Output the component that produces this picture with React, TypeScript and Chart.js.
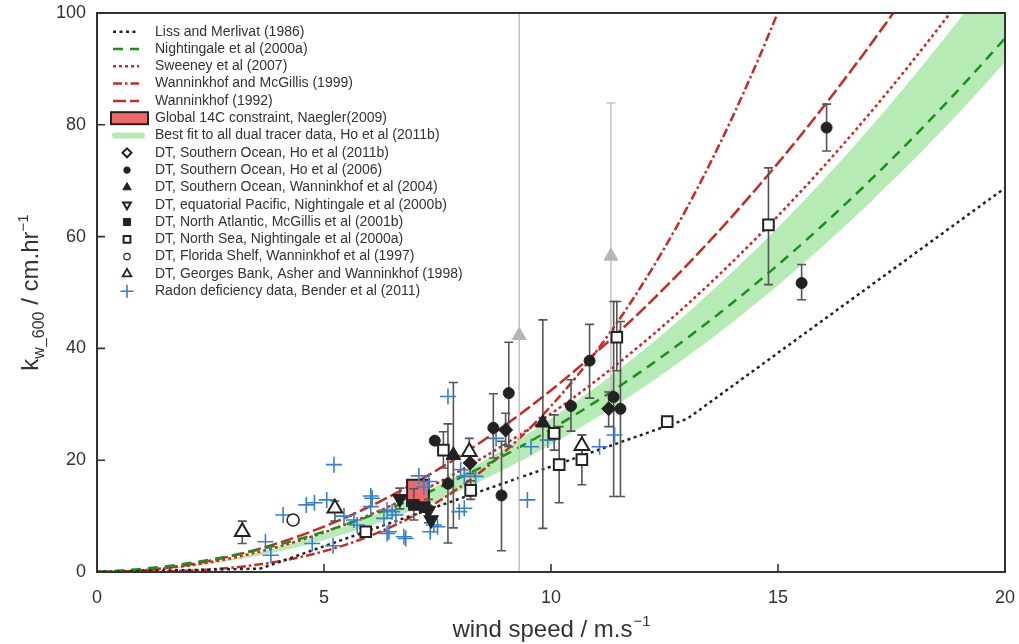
import React, { useEffect, useRef } from "react";
import { Chart, registerables } from "chart.js";
import { drawPoint } from "chart.js/helpers";

Chart.register(...registerables);

const FONT = "'Liberation Sans', Arial, Helvetica, sans-serif";

// ---------- curves (wind speed in m/s, k600 in cm/hr) ----------
const curveWind = [0, 1, 2, 3, 4, 5, 6, 7, 8, 9, 10, 11, 12, 13, 14, 15, 16, 17, 18, 19, 20];
const nightingale2000a = [0, 0.56, 1.55, 3.0, 4.88, 7.22, 9.99, 13.21, 16.87, 20.98, 25.53, 30.53, 35.96, 41.85, 48.17, 54.95, 62.16, 69.82, 77.92, 86.47, 95.46];
const sweeney2007 = [0, 0.28, 1.13, 2.55, 4.53, 7.08, 10.2, 13.88, 18.12, 22.94, 28.32, 34.27, 40.78, 47.86, 55.51, 63.72, 72.5, 81.84, 91.76, 102.24, 113.28];
const wanninkhofMcGillis1999 = [0, 0.03, 0.24, 0.8, 1.9, 3.71, 6.41, 10.18, 15.2, 21.64, 29.68, 39.5, 51.29, 65.21, 81.44, 100.17, 121.57, 145.8, 173.1, 203.6, 237.4];
const wanninkhof1992 = [0, 0.33, 1.3, 2.93, 5.2, 8.13, 11.7, 15.93, 20.81, 26.33, 32.51, 39.34, 46.81, 54.94, 63.72, 73.15, 83.23, 93.95, 105.33, 117.36, 130.04];
const bandLow = [0, 0.23, 0.91, 2.05, 3.65, 5.7, 8.21, 11.17, 14.59, 18.47, 22.8, 27.59, 32.83, 38.53, 44.69, 51.3, 58.37, 65.89, 73.87, 82.31, 91.2];
const bandHigh = [0, 0.27, 1.1, 2.47, 4.38, 6.85, 9.86, 13.43, 17.54, 22.19, 27.4, 33.15, 39.46, 46.31, 53.7, 61.65, 70.14, 79.19, 88.78, 98.91, 109.6];
const lissWind = [0, 3.6, 13, 20];
const liss1986 = [0, 0.61, 27.4, 68.7];

// ---------- Naegler (2009) box ----------
const naeglerWind = [6.83, 7.31];
const naeglerK = [11.8, 16.5];

// ---------- dual tracer data ----------
const ho2011bWind = [8.22, 9.0, 11.27];
const ho2011bK = [19.5, 25.4, 29.2];
const ho2011bLo = [17.6, 22.7, 26.0];
const ho2011bHi = [21.4, 28.4, 32.2];

const ho2006Wind = [7.44, 7.73, 8.73, 8.91, 9.07, 10.44, 10.85, 11.38, 11.53, 15.52, 16.07];
const ho2006K = [23.5, 15.8, 25.8, 13.7, 32.0, 29.7, 37.8, 31.3, 29.2, 51.7, 79.5];
const ho2006Lo = [null, 5.2, 20.4, 3.8, 22.4, 25.2, 31.1, 13.5, 13.5, 48.7, 75.3];
const ho2006Hi = [null, 26.5, 31.9, 23.4, 41.1, 34.4, 44.3, 48.4, 44.8, 55.0, 83.7];

const wann2004Wind = [7.85, 9.82];
const wann2004K = [20.9, 26.7];
const wann2004Lo = [7.9, 7.8];
const wann2004Hi = [33.9, 45.1];

const night2000bWind = [6.67, 7.3, 7.36];
const night2000bK = [13.1, 11.0, 9.3];
const night2000bLo = [11.3, 8.8, null];
const night2000bHi = [15.0, 13.0, null];

const mcgillisWind = [6.98, 7.22];
const mcgillisK = [12.0, 11.6];
const mcgillisLo = [9.3, null];
const mcgillisHi = [14.9, null];

const northSeaWind = [5.92, 7.63, 8.23, 10.07, 10.18, 10.68, 11.45, 12.56, 14.79];
const northSeaK = [7.2, 21.8, 14.6, 24.8, 19.2, 20.1, 42.0, 26.9, 62.1];
const northSeaLo = [6.3, 18.6, 13.0, 21.8, 12.4, 15.6, 36.0, 26.2, 51.4];
const northSeaHi = [8.1, 25.1, 16.3, 28.1, 26.0, 24.5, 48.4, 27.7, 72.3];

const floridaWind = [4.32];
const floridaK = [9.3];

const georgesWind = [3.2, 5.24, 8.2, 10.68];
const georgesK = [7.2, 11.4, 21.5, 22.6];
const georgesLo = [5.1, 9.1, 19.6, 20.6];
const georgesHi = [9.1, 12.7, 23.9, 24.5];

const greyWind = [9.3, 11.32];
const greyK = [42.3, 56.5];
const greyLo = [-10, 29.0];
const greyHi = [110, 83.9];

const benderWind = [5.22, 4.1, 3.71, 3.83, 4.61, 4.79, 5.06, 4.74, 5.2, 5.44, 5.66, 5.73, 6.03, 6.03, 6.06, 6.32, 6.39, 6.43, 6.58, 6.5, 6.39, 6.76, 6.8, 7.09, 7.31, 7.2, 7.42, 7.34, 7.5, 7.98, 8.09, 8.01, 8.09, 8.34, 8.79, 7.73, 9.56, 9.48, 9.93, 11.07, 11.4];
const benderK = [19.2, 10.2, 5.4, 3.0, 12.0, 12.4, 12.9, 5.1, 4.7, 10.0, 9.3, 8.4, 13.6, 11.7, 13.2, 9.6, 11.1, 7.2, 10.2, 10.8, 6.9, 6.3, 6.0, 17.2, 16.2, 15.2, 8.4, 7.2, 8.1, 10.8, 11.4, 18.3, 17.1, 17.1, 23.9, 31.4, 22.4, 12.9, 23.6, 22.4, 24.5];

// ---------- ticks & text ----------
const xTicks = [0, 5, 10, 15, 20];
const yTicks = [0, 20, 40, 60, 80, 100];
const legendLabels = [
  "Liss and Merlivat (1986)",
  "Nightingale et al (2000a)",
  "Sweeney et al (2007)",
  "Wanninkhof and McGillis (1999)",
  "Wanninkhof (1992)",
  "Global 14C constraint, Naegler(2009)",
  "Best fit to all dual tracer data, Ho et al (2011b)",
  "DT, Southern Ocean, Ho et al (2011b)",
  "DT, Southern Ocean, Ho et al (2006)",
  "DT, Southern Ocean, Wanninkhof et al (2004)",
  "DT, equatorial Pacific, Nightingale et al (2000b)",
  "DT, North Atlantic, McGillis et al (2001b)",
  "DT, North Sea, Nightingale et al (2000a)",
  "DT, Florida Shelf, Wanninkhof et al (1997)",
  "DT, Georges Bank, Asher and Wanninkhof (1998)",
  "Radon deficiency data, Bender et al (2011)",
];

const RED = "#c62a24";
const GREEN = "#1b8f1b";
const BLACK = "#222222";
const BAND = "#b6ebb6";
const BLUE = "#3b7ecb";
const AXIS = "#333333";

const DASH_LISS = [3, 3.5];
const DASH_NIGHT = [10, 7];
const DASH_SWEENEY = [3, 3];
const DASH_WM = [9, 3, 2.5, 3];
const DASH_W92 = [13, 4];

export default function App() {
  const ref = useRef<HTMLCanvasElement>(null);

  useEffect(() => {
    const canvas = ref.current;
    if (!canvas) return;
    const xy = (xs: number[], ys: number[]) => xs.map((x, i) => ({ x, y: ys[i] }));

    const curve = (label: string, xs: number[], ys: number[], color: string, dash: number[], order: number, mono = true) => ({
      type: "line",
      label,
      data: xy(xs, ys),
      borderColor: color,
      borderWidth: 2.5,
      borderDash: dash,
      borderCapStyle: "butt",
      pointRadius: 0,
      pointHoverRadius: 0,
      fill: false,
      cubicInterpolationMode: mono ? "monotone" : "default",
      tension: 0,
      order,
    });

    const markers = (label: string, xs: number[], ys: number[], style: string, radius: number, bg: string, border: string, bw: number, rot: number, order: number) => ({
      type: "scatter",
      label,
      data: xy(xs, ys),
      pointStyle: style,
      pointRadius: radius,
      pointHoverRadius: radius,
      pointBackgroundColor: bg,
      pointBorderColor: border,
      pointBorderWidth: bw,
      pointRotation: rot,
      showLine: false,
      order,
    });

    const datasets: any[] = [
      { type: "line", label: "bandLow", data: xy(curveWind, bandLow), borderWidth: 0, pointRadius: 0, fill: false, cubicInterpolationMode: "monotone", order: 60, borderColor: "rgba(0,0,0,0)" },
      { type: "line", label: legendLabels[6], data: xy(curveWind, bandHigh), borderWidth: 0, pointRadius: 0, fill: { target: 0 }, backgroundColor: BAND, cubicInterpolationMode: "monotone", order: 60, borderColor: "rgba(0,0,0,0)" },
      curve(legendLabels[0], lissWind, liss1986, BLACK, DASH_LISS, 50, false),
      curve(legendLabels[1], curveWind, nightingale2000a, GREEN, DASH_NIGHT, 50),
      curve(legendLabels[2], curveWind, sweeney2007, RED, DASH_SWEENEY, 50),
      curve(legendLabels[3], curveWind, wanninkhofMcGillis1999, RED, DASH_WM, 50),
      curve(legendLabels[4], curveWind, wanninkhof1992, RED, DASH_W92, 50),
      markers("grey", greyWind, greyK, "triangle", 8, "#b5b5b5", "#b5b5b5", 1, 0, 9), // 7
      markers(legendLabels[15], benderWind, benderK, "cross", 8, BLUE, BLUE, 1.6, 0, 8), // 8
      markers(legendLabels[14], georgesWind, georgesK, "triangle", 8.5, "#ffffff", BLACK, 2, 0, 7), // 9
      markers(legendLabels[13], floridaWind, floridaK, "circle", 6, "#ffffff", BLACK, 1.5, 0, 6), // 10
      markers(legendLabels[12], northSeaWind, northSeaK, "rect", 7.5, "#ffffff", BLACK, 2, 0, 5), // 11
      markers(legendLabels[11], mcgillisWind, mcgillisK, "rect", 7.5, BLACK, BLACK, 1, 0, 4), // 12
      markers(legendLabels[10], night2000bWind, night2000bK, "triangle", 8.5, BLACK, BLACK, 1, 180, 3), // 13
      markers(legendLabels[9], wann2004Wind, wann2004K, "triangle", 8.5, BLACK, BLACK, 1, 0, 2), // 14
      markers(legendLabels[8], ho2006Wind, ho2006K, "circle", 5.5, BLACK, BLACK, 1, 0, 1), // 15
      markers(legendLabels[7], ho2011bWind, ho2011bK, "rectRot", 7, BLACK, BLACK, 1, 0, 0), // 16
    ];

    const errorSets = [
      { xs: greyWind, lo: greyLo, hi: greyHi, color: "#c4c4c4" },
      { xs: ho2011bWind, lo: ho2011bLo, hi: ho2011bHi, color: "#555" },
      { xs: ho2006Wind, lo: ho2006Lo, hi: ho2006Hi, color: "#555" },
      { xs: wann2004Wind, lo: wann2004Lo, hi: wann2004Hi, color: "#555" },
      { xs: night2000bWind, lo: night2000bLo, hi: night2000bHi, color: "#555" },
      { xs: mcgillisWind, lo: mcgillisLo, hi: mcgillisHi, color: "#555" },
      { xs: northSeaWind, lo: northSeaLo, hi: northSeaHi, color: "#555" },
      { xs: georgesWind, lo: georgesLo, hi: georgesHi, color: "#555" },
    ];

    const decor = {
      id: "decor",
      beforeDatasetDraw(chart: any, args: any) {
        if (args.index !== 7) return;
        const { ctx, chartArea: a } = chart;
        const xs = chart.scales.x, ys = chart.scales.y;
        ctx.save();
        ctx.beginPath();
        ctx.rect(a.left, a.top, a.right - a.left, a.bottom - a.top);
        ctx.clip();
        // Naegler box
        const bx0 = xs.getPixelForValue(naeglerWind[0]);
        const bx1 = xs.getPixelForValue(naeglerWind[1]);
        const by0 = ys.getPixelForValue(naeglerK[1]);
        const by1 = ys.getPixelForValue(naeglerK[0]);
        ctx.fillStyle = "#ee6a6a";
        ctx.strokeStyle = BLACK;
        ctx.lineWidth = 2;
        ctx.fillRect(bx0, by0, bx1 - bx0, by1 - by0);
        ctx.strokeRect(bx0, by0, bx1 - bx0, by1 - by0);
        // error bars
        ctx.lineWidth = 1.6;
        for (const s of errorSets) {
          ctx.strokeStyle = s.color;
          s.xs.forEach((u: number, i: number) => {
            const lo = s.lo[i], hi = s.hi[i];
            if (lo == null || hi == null) return;
            const px = xs.getPixelForValue(u);
            const p0 = ys.getPixelForValue(lo);
            const p1 = ys.getPixelForValue(hi);
            ctx.beginPath();
            ctx.moveTo(px, p0);
            ctx.lineTo(px, p1);
            ctx.moveTo(px - 4.5, p0);
            ctx.lineTo(px + 4.5, p0);
            ctx.moveTo(px - 4.5, p1);
            ctx.lineTo(px + 4.5, p1);
            ctx.stroke();
          });
        }
        ctx.restore();
      },
      afterDraw(chart: any) {
        const { ctx, chartArea: a } = chart;
        const xs = chart.scales.x, ys = chart.scales.y;
        ctx.save();
        // frame
        ctx.strokeStyle = AXIS;
        ctx.lineWidth = 2;
        ctx.setLineDash([]);
        ctx.strokeRect(a.left, a.top, a.right - a.left, a.bottom - a.top);
        // inward ticks
        ctx.lineWidth = 1.6;
        ctx.beginPath();
        xTicks.forEach((v) => {
          const px = xs.getPixelForValue(v);
          ctx.moveTo(px, a.bottom);
          ctx.lineTo(px, a.bottom - 8);
        });
        yTicks.forEach((v) => {
          const py = ys.getPixelForValue(v);
          ctx.moveTo(a.left, py);
          ctx.lineTo(a.left + 8, py);
        });
        ctx.stroke();

        // x title
        ctx.fillStyle = AXIS;
        ctx.textBaseline = "alphabetic";
        const big = `24px ${FONT}`;
        const sup = `15px ${FONT}`;
        ctx.font = big;
        const t1 = "wind speed / m.s";
        const w1 = ctx.measureText(t1).width;
        ctx.font = sup;
        const w2 = ctx.measureText("\u22121").width;
        const cx = (a.left + a.right) / 2;
        let sx = cx - (w1 + w2) / 2;
        ctx.font = big;
        ctx.textAlign = "left";
        ctx.fillText(t1, sx, 637);
        ctx.font = sup;
        ctx.fillText("\u22121", sx + w1 + 1, 626);

        // y title
        ctx.save();
        ctx.translate(38, (a.top + a.bottom) / 2);
        ctx.rotate(-Math.PI / 2);
        const parts = [
          { t: "k", f: big, dy: 0 },
          { t: "w_600", f: `16px ${FONT}`, dy: 6 },
          { t: " / cm.hr", f: big, dy: 0 },
          { t: "\u22121", f: sup, dy: -10 },
        ];
        let total = 0;
        const widths = parts.map((p) => {
          ctx.font = p.f;
          const w = ctx.measureText(p.t).width;
          total += w;
          return w;
        });
        let x = -total / 2;
        parts.forEach((p, i) => {
          ctx.font = p.f;
          ctx.fillText(p.t, x, p.dy);
          x += widths[i];
        });
        ctx.restore();

        // legend
        const lx0 = 113, lx1 = 139, mx = 127, tx = 155;
        const y0 = 31.7, step = 17.3;
        const line = (row: number, color: string, dash: number[], w = 2.5) => {
          const y = y0 + row * step;
          ctx.save();
          ctx.strokeStyle = color;
          ctx.lineWidth = w;
          ctx.setLineDash(dash);
          ctx.beginPath();
          ctx.moveTo(lx0, y);
          ctx.lineTo(lx1, y);
          ctx.stroke();
          ctx.restore();
        };
        line(0, BLACK, DASH_LISS);
        line(1, GREEN, DASH_NIGHT);
        line(2, RED, DASH_SWEENEY);
        line(3, RED, DASH_WM);
        line(4, RED, DASH_W92);
        // naegler
        {
          const y = y0 + 5 * step;
          ctx.fillStyle = "#ee6a6a";
          ctx.strokeStyle = BLACK;
          ctx.lineWidth = 2;
          ctx.fillRect(111, y - 6, 37, 12);
          ctx.strokeRect(111, y - 6, 37, 12);
        }
        // band
        {
          const y = y0 + 6 * step;
          ctx.save();
          ctx.strokeStyle = BAND;
          ctx.lineWidth = 6;
          ctx.lineCap = "round";
          ctx.beginPath();
          ctx.moveTo(115, y);
          ctx.lineTo(142, y);
          ctx.stroke();
          ctx.restore();
        }
        const mk = (row: number, style: string, r: number, bg: string, border: string, bw: number, rot = 0) => {
          const y = y0 + row * step;
          ctx.save();
          ctx.fillStyle = bg;
          ctx.strokeStyle = border;
          ctx.lineWidth = bw;
          drawPoint(ctx, { pointStyle: style as any, rotation: rot, radius: r, borderWidth: bw }, mx, y);
          ctx.restore();
        };
        mk(7, "rectRot", 4.5, "#ffffff", BLACK, 2);
        mk(8, "circle", 3.2, BLACK, BLACK, 1);
        mk(9, "triangle", 4.8, BLACK, BLACK, 1);
        mk(10, "triangle", 4.5, "#ffffff", BLACK, 2, 180);
        mk(11, "rect", 5, BLACK, BLACK, 1);
        mk(12, "rect", 4.8, "#ffffff", BLACK, 2);
        mk(13, "circle", 3.2, "#ffffff", BLACK, 1.2);
        mk(14, "triangle", 5, "#ffffff", BLACK, 1.8);
        mk(15, "cross", 6.5, BLUE, BLUE, 1.6);

        ctx.fillStyle = AXIS;
        ctx.textAlign = "left";
        ctx.textBaseline = "middle";
        ctx.font = `14px ${FONT}`;
        legendLabels.forEach((t, i) => {
          ctx.fillText(t, tx, y0 + i * step);
        });
        ctx.restore();
      },
    };

    const chart = new Chart(canvas, {
      type: "scatter",
      data: { datasets },
      options: {
        animation: false,
        responsive: false,
        events: [],
        layout: { padding: { top: 13, right: 14, left: 0, bottom: 0 } },
        plugins: { legend: { display: false }, tooltip: { enabled: false } },
        scales: {
          x: {
            type: "linear",
            min: 0,
            max: 20,
            afterFit: (s: any) => { s.height = 72; s.paddingLeft = 0; s.paddingRight = 0; },
            afterBuildTicks: (s: any) => { s.ticks = xTicks.map((v) => ({ value: v })); },
            ticks: { color: AXIS, font: { family: FONT, size: 18 }, padding: 15, maxRotation: 0 },
            grid: { display: false, drawTicks: false },
            border: { display: false },
          },
          y: {
            type: "linear",
            min: 0,
            max: 100,
            afterFit: (s: any) => { s.width = 97; s.paddingTop = 0; s.paddingBottom = 0; },
            afterBuildTicks: (s: any) => { s.ticks = yTicks.map((v) => ({ value: v })); },
            ticks: { color: AXIS, font: { family: FONT, size: 18 }, padding: 11 },
            grid: { display: false, drawTicks: false },
            border: { display: false },
          },
        },
      } as any,
      plugins: [decor],
    } as any);
    return () => chart.destroy();
  }, []);

  return (
    <div style={{ position: "absolute", left: 0, top: 0, width: 1019, height: 644, background: "#ffffff" }}>
      <canvas ref={ref} width={1019} height={644} style={{ display: "block", width: 1019, height: 644 }} />
    </div>
  );
}
